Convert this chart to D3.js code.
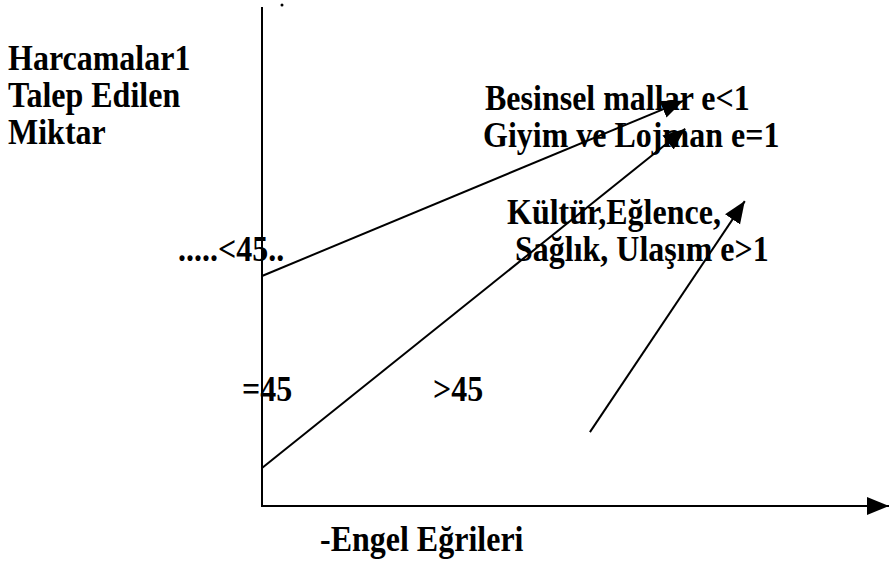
<!DOCTYPE html>
<html>
<head>
<meta charset="utf-8">
<script src="https://cdn.jsdelivr.net/npm/d3@7"></script>
<style>
  html, body { margin: 0; padding: 0; background: #fff; }
  text { font-family: "Liberation Serif", "Times New Roman", serif; font-weight: bold; fill: #000; }
</style>
</head>
<body>
<svg id="chart"></svg>
<script>
// Engel curves, in chart units (x: income, y: spending)
const curveNames = ["Besinsel mallar", "Giyim ve Lojman", "Kültür, Eğlence"];
const curveStart = [[0, 4.61], [0, 0.76], [5.23, 1.48]];
const curveEnd = [[6.72, 8.12], [6.75, 7.56], [7.70, 6.11]];

const yTitle = ["Harcamalar1", "Talep Edilen", "Miktar"];
const xTitle = "-Engel Eğrileri";
const labels = [
  { text: "Harcamalar1", x: 8, y: 70 },
  { text: "Talep Edilen", x: 8, y: 107 },
  { text: "Miktar", x: 8, y: 144 },
  { text: "Besinsel mallar e<1", x: 485, y: 110 },
  { text: "Giyim ve Lojman e=1", x: 483, y: 147 },
  { text: "Kültür,Eğlence,", x: 507, y: 224 },
  { text: "Sağlık, Ulaşım e>1", x: 515, y: 261 },
  { text: ".....<45..", x: 178, y: 261 },
  { text: "=45", x: 242, y: 401 },
  { text: ">45", x: 433, y: 401 },
  { text: xTitle, x: 320, y: 551 }
];

const width = 889, height = 561;

const svg = d3.select("#chart")
  .attr("width", width)
  .attr("height", height);

const x = d3.scaleLinear().domain([0, 10]).range([262, 889]);
const y = d3.scaleLinear().domain([0, 10]).range([506, 7]);

// arrowhead marker
svg.append("defs").append("marker")
  .attr("id", "arrow")
  .attr("markerUnits", "userSpaceOnUse")
  .attr("viewBox", "0 -10 22 20")
  .attr("refX", 22)
  .attr("refY", 0)
  .attr("markerWidth", 22)
  .attr("markerHeight", 20)
  .attr("orient", "auto")
  .append("path")
  .attr("d", "M0,-9L22,0L0,9Z")
  .attr("fill", "#000");

// axes
svg.append("line")
  .attr("x1", x(0)).attr("y1", y(0))
  .attr("x2", x(0)).attr("y2", y(10))
  .attr("stroke", "#000").attr("stroke-width", 2);

svg.append("line")
  .attr("x1", x(0) - 1).attr("y1", y(0))
  .attr("x2", x(10)).attr("y2", y(0))
  .attr("stroke", "#000").attr("stroke-width", 2)
  .attr("marker-end", "url(#arrow)");

// curves
svg.selectAll("line.curve")
  .data(curveNames)
  .join("line")
  .attr("class", "curve")
  .attr("x1", (d, i) => x(curveStart[i][0]))
  .attr("y1", (d, i) => y(curveStart[i][1]))
  .attr("x2", (d, i) => x(curveEnd[i][0]))
  .attr("y2", (d, i) => y(curveEnd[i][1]))
  .attr("stroke", "#000")
  .attr("stroke-width", 2)
  .attr("marker-end", "url(#arrow)");

// all text labels, slightly stretched vertically like the original
svg.selectAll("text.lbl")
  .data(labels)
  .join("text")
  .attr("class", "lbl")
  .attr("transform", d => `translate(${d.x},${d.y}) scale(1,1.12)`)
  .attr("font-size", 32)
  .text(d => d.text);

// small dot near top of y axis
svg.append("circle")
  .attr("cx", 282)
  .attr("cy", 5)
  .attr("r", 1.5)
  .attr("fill", "#000");
</script>
</body>
</html>
